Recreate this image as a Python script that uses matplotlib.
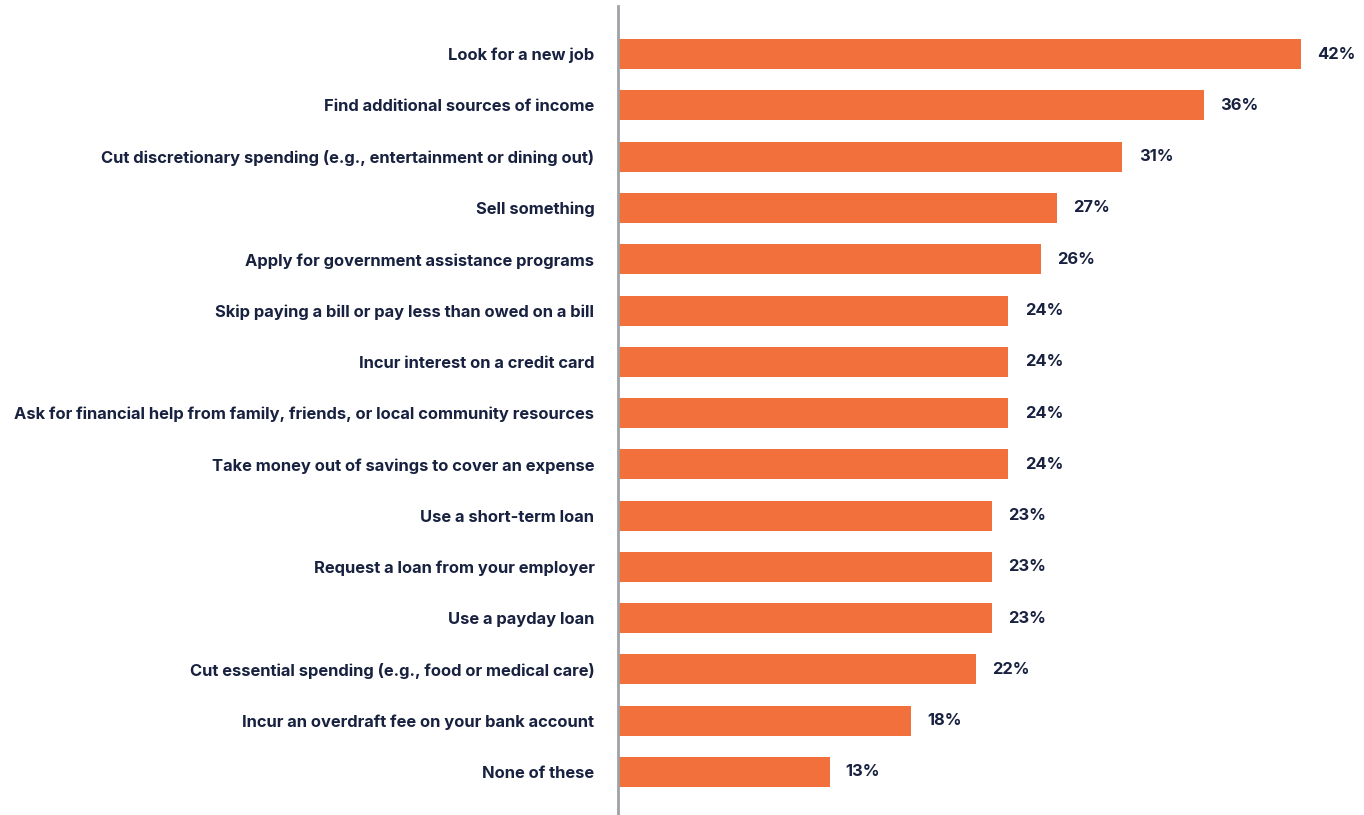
import matplotlib
matplotlib.use("Agg")
import matplotlib.pyplot as plt
import numpy as np

# survey answers, top to bottom
labels = [
    "Look for a new job",
    "Find additional sources of income",
    "Cut discretionary spending (e.g., entertainment or dining out)",
    "Sell something",
    "Apply for government assistance programs",
    "Skip paying a bill or pay less than owed on a bill",
    "Incur interest on a credit card",
    "Ask for financial help from family, friends, or local community resources",
    "Take money out of savings to cover an expense",
    "Use a short-term loan",
    "Request a loan from your employer",
    "Use a payday loan",
    "Cut essential spending (e.g., food or medical care)",
    "Incur an overdraft fee on your bank account",
    "None of these",
]
values = [42, 36, 31, 27, 26, 24, 24, 24, 24, 23, 23, 23, 22, 18, 13]

BAR_COLOR = "#F2703C"
TEXT_COLOR = "#18213F"
LINE_COLOR = "#9EA1A6"

W, H = 1364, 815
fig = plt.figure(figsize=(W / 100, H / 100), dpi=100)
# axes spans from the divider line to the right edge
left_px, top_px, bottom_px = 618, 6, 815
ax = fig.add_axes([left_px / W, 1 - bottom_px / H, 1 - left_px / W, (bottom_px - top_px) / H])

y = np.arange(len(labels))
ax.barh(y, values, height=0.585, color=BAR_COLOR)

px_per_unit = 16.27
ax.set_xlim(0, (W - left_px) / px_per_unit)
ax.set_ylim(14.84, -0.94)

font = dict(family=["Inter", "DejaVu Sans"], fontweight="bold", color=TEXT_COLOR, fontsize=11.9)
for yi, v in zip(y, values):
    ax.text(v + 1.0, yi, f"{v}%", va="center", ha="left", **font)

ax.set_yticks(y)
ax.set_yticklabels(labels, **font)
ax.tick_params(axis="y", length=0, pad=17)
ax.set_xticks([])

for s in ["top", "right", "bottom"]:
    ax.spines[s].set_visible(False)
ax.spines["left"].set_color(LINE_COLOR)
ax.spines["left"].set_linewidth(2)

fig.savefig("out.png", dpi=100)
